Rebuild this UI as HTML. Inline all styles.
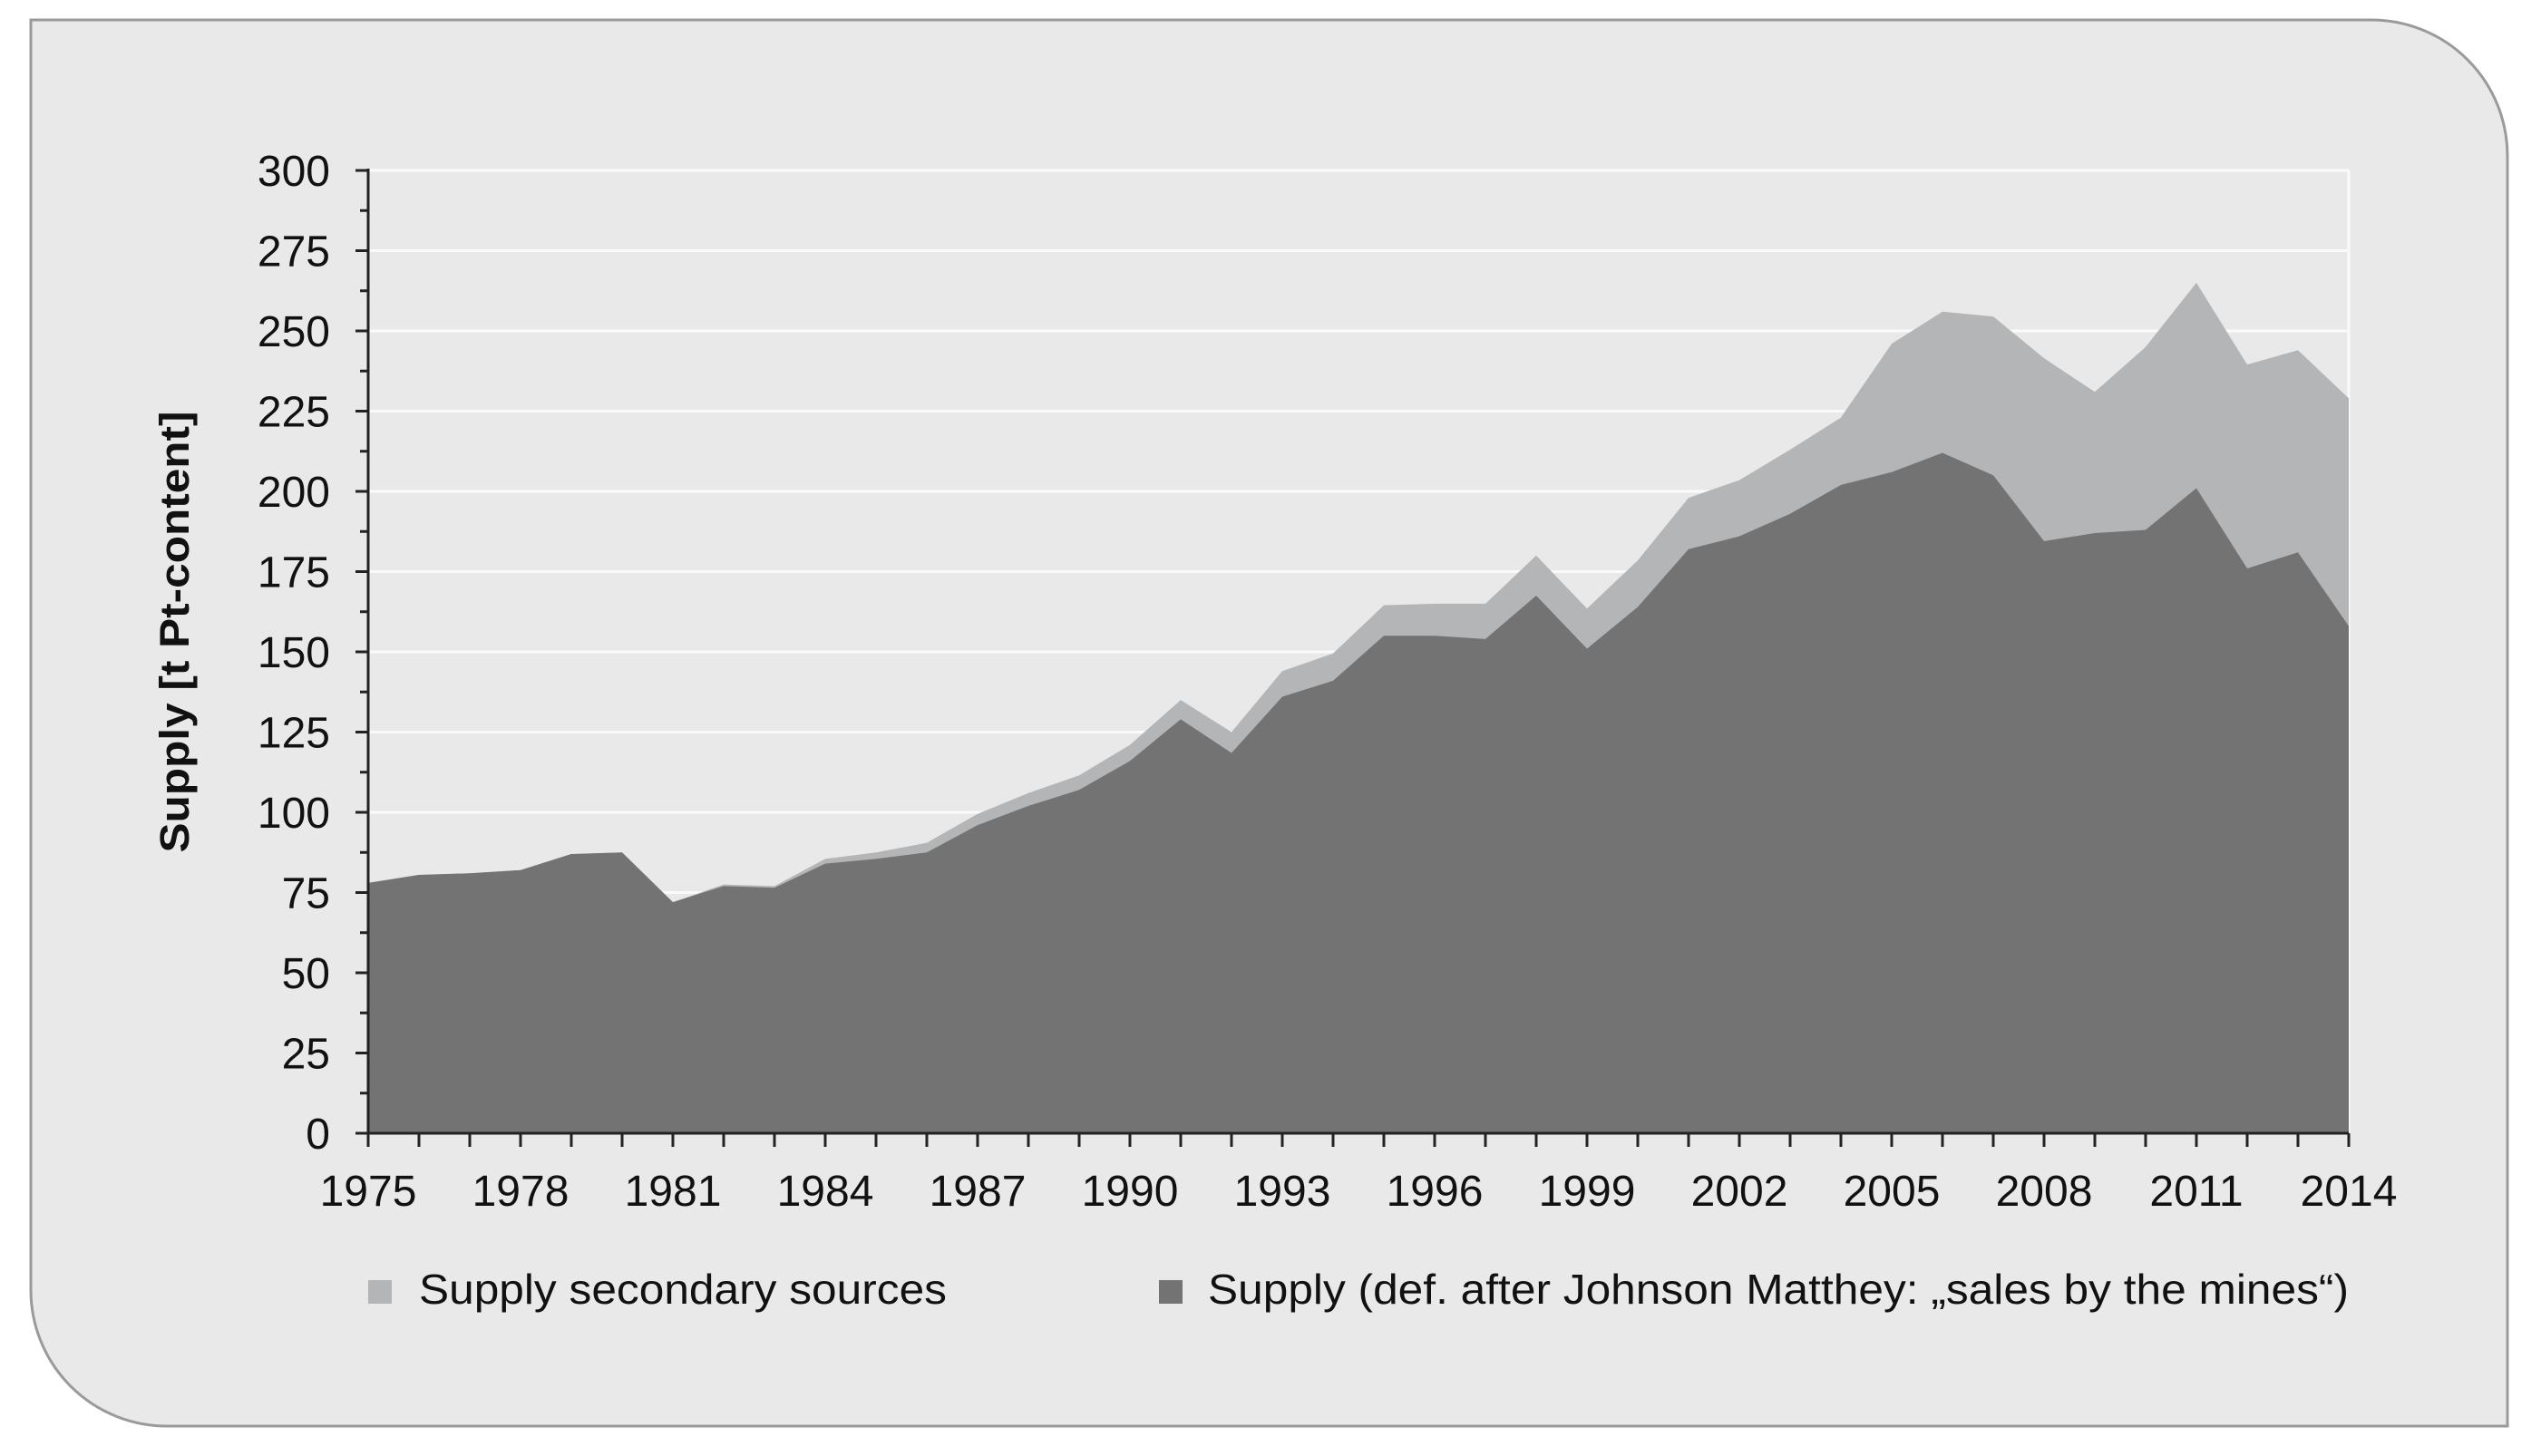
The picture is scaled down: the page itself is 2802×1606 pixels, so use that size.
<!DOCTYPE html>
<html><head><meta charset="utf-8"><style>
html,body{margin:0;padding:0;background:#fff;}
svg{display:block;font-family:"Liberation Sans",Arial,sans-serif;}
</style></head><body>
<svg id="chart" width="2802" height="1606" viewBox="0 0 2802 1606" xmlns="http://www.w3.org/2000/svg">
<path d="M34,22 H2615 A150,150 0 0 1 2765,172 V1573 H184 A150,150 0 0 1 34,1423 Z" fill="#e9e9e9" stroke="#9a9a9a" stroke-width="3"/>
<g id="grid"></g>
<g id="areas"></g>
<g id="axes"></g>
<text transform="translate(208,697) rotate(-90)" text-anchor="middle" font-size="45" font-weight="bold" fill="#111" textLength="487" lengthAdjust="spacingAndGlyphs">Supply [t Pt-content]</text>
<rect x="406" y="1412" width="26" height="26" fill="#b3b5b7"/>
<text x="462" y="1438" font-size="46" fill="#111" textLength="582" lengthAdjust="spacingAndGlyphs">Supply secondary sources</text>
<rect x="1278" y="1412" width="26" height="26" fill="#737373"/>
<text x="1332" y="1438" font-size="46" fill="#111" textLength="1258" lengthAdjust="spacingAndGlyphs">Supply (def. after Johnson Matthey: „sales by the mines“)</text>
</svg>
<script>
const years = [1975,1976,1977,1978,1979,1980,1981,1982,1983,1984,1985,1986,1987,1988,1989,1990,1991,1992,1993,1994,1995,1996,1997,1998,1999,2000,2001,2002,2003,2004,2005,2006,2007,2008,2009,2010,2011,2012,2013,2014];
const mines = [78,80.5,81,82,87,87.5,72,77,76.5,84,85.5,87.5,96,102,107,116,129,118.5,136,141,155,155,154,167.5,151,164,182,186,193,202,206,212,205,184.5,187,188,201,176,181,158];
const secondary = [0,0,0,0,0,0,0,0.5,0.5,1.5,2,3,3.5,4,4.5,5,6,6.5,8,8.5,9.5,10,11,12.5,12.5,14.5,16,17.5,20,21,40,44,49.5,57,44,57,64,63.5,63,71];
const yTicks = [0,25,50,75,100,125,150,175,200,225,250,275,300];
const xTickLabels = [1975,1978,1981,1984,1987,1990,1993,1996,1999,2002,2005,2008,2011,2014];

const X0=406, X1=2590, Y0=1250, Y1=188;
const xs = y => X0 + (y-years[0])/(years[years.length-1]-years[0])*(X1-X0);
const ys = v => Y0 - v/300*(Y0-Y1);
const NS="http://www.w3.org/2000/svg";
function mk(tag, attrs, parent){const e=document.createElementNS(NS,tag);for(const k in attrs)e.setAttribute(k,attrs[k]);parent.appendChild(e);return e;}
const grid=document.getElementById('grid'), areas=document.getElementById('areas'), axes=document.getElementById('axes');

yTicks.forEach(v=>{ if(v>0){
  const l=mk('line',{x1:X0,x2:X1,y1:ys(v),y2:ys(v),stroke:'#fafafa','stroke-width':3},grid);
  
  
}});
const vr=mk('line',{x1:X1,x2:X1,y1:Y1,y2:Y0,stroke:'#fafafa','stroke-width':3},grid);



const topPts=years.map((y,i)=>xs(y)+','+ys(mines[i]+secondary[i])).join(' L');
const pS=mk('path',{d:'M'+xs(years[0])+','+Y0+' L'+topPts+' L'+xs(years[years.length-1])+','+Y0+' Z',fill:'#b3b5b7'},areas);


const minePts=years.map((y,i)=>xs(y)+','+ys(mines[i])).join(' L');
const pM=mk('path',{d:'M'+xs(years[0])+','+Y0+' L'+minePts+' L'+xs(years[years.length-1])+','+Y0+' Z',fill:'#737373'},areas);



const ya=mk('line',{x1:X0,x2:X0,y1:Y1-2,y2:Y0+2,stroke:'#222','stroke-width':3},axes);


const xa=mk('line',{x1:X0-3,x2:X1,y1:Y0,y2:Y0,stroke:'#222','stroke-width':3},axes);


for(let v=0; v<=300; v+=12.5){
  const major = v%25===0;
  const t=mk('line',{x1:major?X0-14:X0-9,x2:X0,y1:ys(v),y2:ys(v),stroke:'#222','stroke-width':3},axes);
  
  
}
yTicks.forEach(v=>{
  const t=mk('text',{x:364,y:ys(v)+17,'text-anchor':'end','font-size':48,fill:'#111'},axes);
  t.textContent=v;
  
  
});
years.forEach(y=>{
  const t=mk('line',{x1:xs(y),x2:xs(y),y1:Y0,y2:Y0+15,stroke:'#222','stroke-width':3},axes);
  
  
});
xTickLabels.forEach(y=>{
  const t=mk('text',{x:xs(y),y:Y0+80,'text-anchor':'middle','font-size':48,fill:'#111'},axes);
  t.textContent=y;
  
  
});
</script>
</body></html>
